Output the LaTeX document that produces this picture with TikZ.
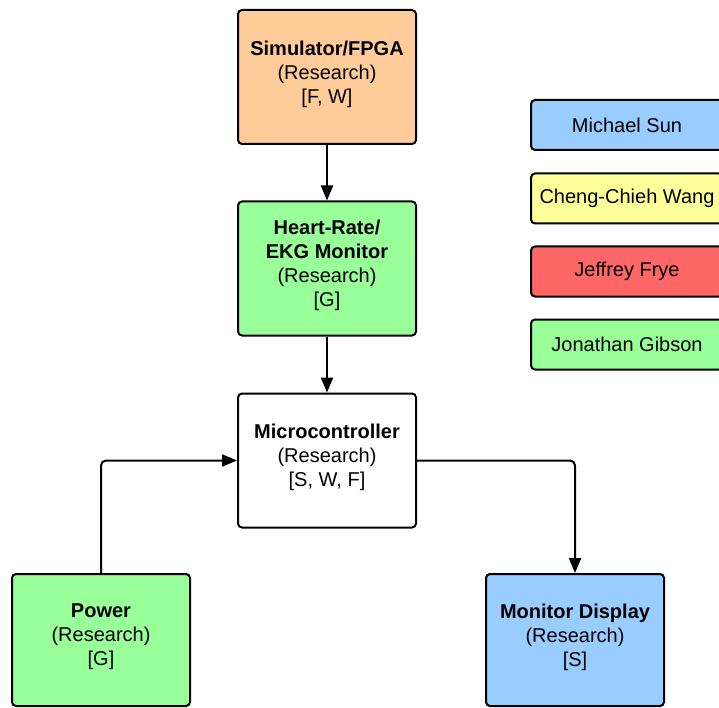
\documentclass[tikz,border=0pt]{standalone}
\usepackage{fontspec}
\setmainfont{Liberation Sans}
\usetikzlibrary{arrows.meta}
\definecolor{peach}{HTML}{FFCC99}
\definecolor{lgreen}{HTML}{99FF99}
\definecolor{lblue}{HTML}{99CCFF}
\definecolor{lyellow}{HTML}{FFFF99}
\definecolor{lred}{HTML}{FF6666}
\begin{document}
\begin{tikzpicture}[x=1pt,y=-1pt,
  box/.style={draw=black, line width=2pt, rounded corners=4pt, minimum width=178pt, minimum height=134pt, align=center, font=\fontsize{20}{24}\selectfont, inner sep=0pt, text depth=10pt},
  leg/.style={draw=black, line width=2pt, rounded corners=4pt, minimum width=192pt, minimum height=50pt, font=\fontsize{20}{24}\selectfont, inner sep=0pt},
  conn/.style={line width=2pt, -{Triangle[length=15pt,width=12pt]}, rounded corners=5pt}]
\useasboundingbox (0,0) rectangle (719,708);
\clip (0,0) rectangle (719,708);
\fill[white] (0,0) rectangle (719,708);
\node[box, fill=peach] (sim) at (327,77) {\textbf{Simulator/FPGA}\\(Research)\\{}[F, W]};
\node[box, fill=lgreen] (hr) at (327,268.5) {\textbf{Heart-Rate/}\\\textbf{EKG Monitor}\\(Research)\\{}[G]};
\node[box, fill=white] (mc) at (327,460.5) {\textbf{Microcontroller}\\(Research)\\{}[S, W, F]};
\node[box, fill=lgreen, minimum height=132pt] (pw) at (101,640) {\textbf{Power}\\(Research)\\{}[G]};
\node[box, fill=lblue, minimum height=132pt] (md) at (575,640) {\textbf{Monitor Display}\\(Research)\\{}[S]};
\node[leg, fill=lblue] (l1) at (627,125) {Michael Sun};
\node[leg, fill=lyellow] (l2) at (627,198.5) {Cheng-Chieh Wang};
\node[leg, fill=lred] (l3) at (627,271.5) {Jeffrey Frye};
\node[leg, fill=lgreen] (l4) at (627,344.5) {Jonathan Gibson};
\draw[conn] (sim.south) -- (hr.north);
\draw[conn] (hr.south) -- (mc.north);
\draw[conn] (pw.north) |- (mc.west);
\draw[conn] (mc.east) -| (md.north);
\end{tikzpicture}
\end{document}
